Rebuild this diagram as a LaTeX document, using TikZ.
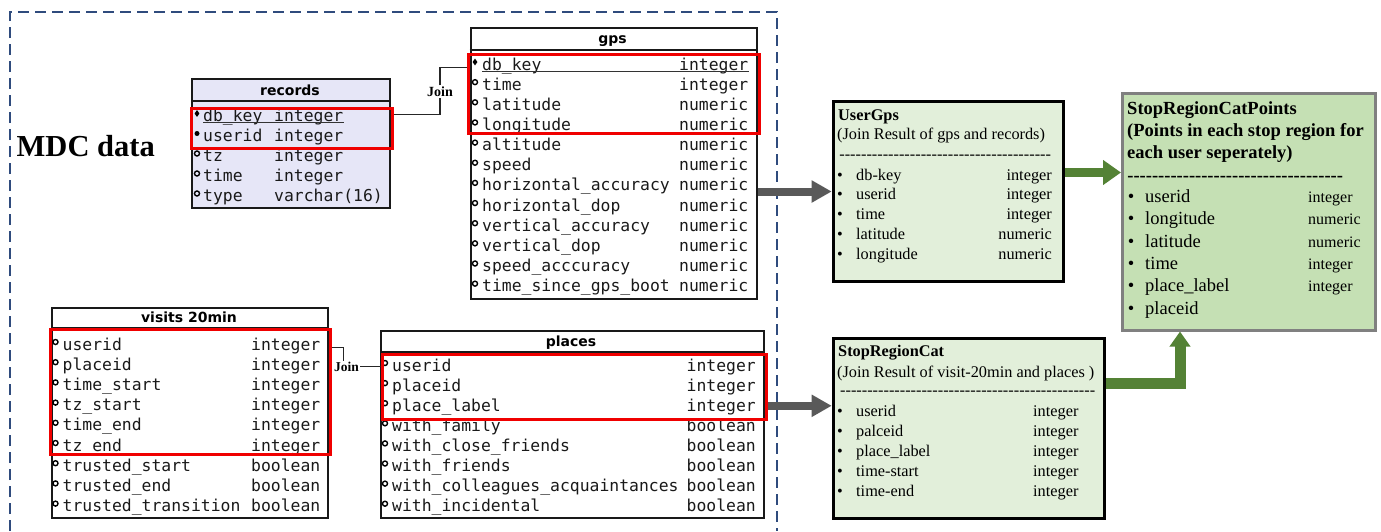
\documentclass[tikz,border=0pt]{standalone}
\usepackage{fontspec}
\setmainfont{Liberation Serif}
\newfontfamily\monof{DejaVu Sans Mono}
\newfontfamily\hdrf{DejaVu Sans}
\usetikzlibrary{arrows.meta,shapes.geometric}
\definecolor{lav}{HTML}{E6E6F7}
\definecolor{resg}{HTML}{E2EFDA}
\definecolor{spg}{HTML}{C5E0B4}
\definecolor{arrgray}{HTML}{595959}
\definecolor{arrgreen}{HTML}{548235}
\definecolor{mdcblue}{HTML}{2F4B7D}
\definecolor{keyred}{HTML}{F00000}
\newcommand\dashfill[1]{\hbox to #1{\cleaders\hbox{-}\hfill}}
% table rows: prefix, marker x, name x, type x, y0, pitch, list (marker/name/type)
\newcommand\tabrows[7]{%
  \foreach \m/\nm/\ty [count=\i] in {#7}{%
    \pgfmathsetmacro\yy{#5+#6*(\i-1)}%
    \edef\tmp{\noexpand\node[mk\m] (#1-m\i) at (#2,\yy-3) {};}\tmp
    \node[row] (#1-n\i) at (#3,\yy+5) {\nm};
    \node[row] (#1-t\i) at (#4,\yy+5) {\ty};
  }}
% result rows: prefix, bullet x, name x, type x, y0, pitch, item style, type style, list
\newcommand\resrows[9]{%
  \foreach \nm/\ty [count=\i] in {#9}{%
    \pgfmathsetmacro\yy{#5+#6*(\i-1)}%
    \node[#7, anchor=base] (#1-b\i) at (#2,\yy+5) {\textbullet};
    \node[#7] (#1-n\i) at (#3,\yy+5) {\nm};
    \node[#8] (#1-t\i) at (#4,\yy+5) {\ty};
  }}
\begin{document}
\begin{tikzpicture}[x=1pt,y=-1pt,
  row/.style={font=\monof\fontsize{16.4}{18}\selectfont, inner sep=0pt, anchor=base west, text=black!90},
  hdr/.style={font=\hdrf\bfseries\fontsize{14}{16}\selectfont, inner sep=0pt, anchor=base},
  tbl/.style={draw=black!90, line width=2pt, anchor=north west, inner sep=0pt},
  hline/.style={draw=black!90, line width=2pt},
  keybox/.style={draw=keyred, line width=3pt, anchor=north west, inner sep=0pt},
  mko/.style={circle, draw=black, line width=1.4pt, inner sep=0pt, minimum size=5pt},
  mkf/.style={circle, fill=black, inner sep=0pt, minimum size=5pt},
  mkd/.style={diamond, fill=black, inner sep=0pt, minimum width=5pt, minimum height=7pt},
  uline/.style={draw=black!80, line width=1pt},
  joinlbl/.style={font=\bfseries\fontsize{14}{16}\selectfont, fill=white, inner sep=1pt},
  jline/.style={draw=black!85, line width=1.2pt},
  garr/.style={draw=arrgray, line width=8pt, -{Triangle[width=21pt,length=20pt]}},
  grarr/.style={draw=arrgreen, line width=9pt, -{Triangle[width=24pt,length=18pt]}},
  grarrb/.style={draw=arrgreen, line width=11pt, line join=miter, -{Triangle[width=20pt,length=15pt]}},
  res/.style={draw=black, line width=3pt, fill=resg, anchor=north west, inner sep=0pt},
  rtitle/.style={font=\bfseries\fontsize{16.3}{18}\selectfont, inner sep=0pt, anchor=base west},
  ugitem/.style={font=\fontsize{16.3}{18}\selectfont, inner sep=0pt, anchor=base west},
  ugtype/.style={ugitem, anchor=base east},
  sptitle/.style={font=\bfseries\fontsize{18.5}{20}\selectfont, inner sep=0pt, anchor=base west},
  spitem/.style={font=\fontsize{18.5}{20}\selectfont, inner sep=0pt, anchor=base west},
  sptype/.style={font=\fontsize{16}{18}\selectfont, inner sep=0pt, anchor=base west},
  mdc/.style={draw=mdcblue, line width=1.6pt, dash pattern=on 11pt off 6pt}
]
\useasboundingbox (0,0) rectangle (1381,531);

% MDC data region
\draw[mdc] (10,531) -- (10,12) -- (777,12) -- (777,531);
\node[font=\bfseries\fontsize{30.5}{32}\selectfont, inner sep=0pt, anchor=base west] (mdc) at (16.5,156.7) {MDC data};

% ---------- records ----------
\node[tbl, fill=lav, minimum width=198pt, minimum height=129pt] (records) at (191,78.3) {};
\draw[hline] (191,101) -- (389,101);
\node[hdr] (records-h) at (290,95) {records};
\tabrows{rec}{197}{203}{274}{116.5}{20}{d/db\_key/integer, f/userid/integer, o/tz/integer, o/time/integer, o/type/varchar(16)}
\draw[uline] ([yshift=-1.2pt]rec-n1.base west) -- ([yshift=-1.2pt]rec-t1.base east);
\node[keybox, minimum width=201pt, minimum height=40pt] (rec-key) at (190,106.7) {};

% ---------- gps ----------
\node[tbl, minimum width=286pt, minimum height=271pt] (gps) at (469.5,26.7) {};
\draw[hline] (469.5,49.5) -- (755.5,49.5);
\node[hdr] (gps-h) at (612.5,43) {gps};
\tabrows{gps}{475}{482}{679}{65}{20.15}{d/db\_key/integer, o/time/integer, o/latitude/numeric, o/longitude/numeric, o/altitude/numeric, o/speed/numeric, o/horizontal\_accuracy/numeric, o/horizontal\_dop/numeric, o/vertical\_accuracy/numeric, o/vertical\_dop/numeric, o/speed\_acccuracy/numeric, o/time\_since\_gps\_boot/numeric}
\draw[uline] ([yshift=-1.7pt]gps-n1.base west) -- ([yshift=-1.7pt]gps-t1.base east);
\node[keybox, minimum width=290.4pt, minimum height=78.4pt] (gps-key) at (467.3,53.3) {};

% ---------- visits 20min ----------
\node[tbl, minimum width=276.3pt, minimum height=210pt] (visits) at (51,307.3) {};
\draw[hline] (51,327.7) -- (327.3,327.7);
\node[hdr] (visits-h) at (189,322) {visits 20min};
\tabrows{vis}{55.5}{62.5}{251}{345}{20.2}{o/userid/integer, o/placeid/integer, o/time\_start/integer, o/tz\_start/integer, o/time\_end/integer, o/tz\_end/integer, o/trusted\_start/boolean, o/trusted\_end/boolean, o/trusted\_transition/boolean}
\node[keybox, minimum width=280pt, minimum height=125pt] (vis-key) at (49.3,328.3) {};

% ---------- places ----------
\node[tbl, minimum width=382.7pt, minimum height=187.3pt] (places) at (380,330) {};
\draw[hline] (380,351.7) -- (762.7,351.7);
\node[hdr] (places-h) at (571,346) {places};
\tabrows{pl}{385}{392}{686.5}{366}{20.1}{o/userid/integer, o/placeid/integer, o/place\_label/integer, o/with\_family/boolean, o/with\_close\_friends/boolean, o/with\_friends/boolean, o/with\_colleagues\_acquaintances/boolean, o/with\_incidental/boolean}
\node[keybox, minimum width=384pt, minimum height=65pt] (pl-key) at (381,353.3) {};

% ---------- joins ----------
\node[joinlbl] (join1) at (440,91.5) {Join};
\draw[jline] ([yshift=-8pt]rec-key.north east) -| (join1.south);
\draw[jline] (join1.north) |- ([yshift=-14.5pt]gps-key.north west);
\node[joinlbl, font=\bfseries\fontsize{13.5}{15}\selectfont] (join2) at (346.5,366.8) {Join};
\draw[jline] ([yshift=-19.5pt]vis-key.north east) -| ([xshift=-3pt]join2.north);
\draw[jline] (join2.east) -- (join2.east -| pl-key.west);

% ---------- UserGps ----------
\node[res, minimum width=230.6pt, minimum height=180pt] (usergps) at (831.7,100) {};
\node[rtitle] (ug-title) at (838,120.5) {UserGps};
\node[ugitem] (ug-sub) at (837,139.5) {(Join Result of gps and records)};
\node[ugitem] (ug-dash) at (838,159) {\dashfill{214pt}};
\resrows{ug}{840}{856}{1052}{175}{19.75}{ugitem}{ugtype}{db-key/integer, userid/integer, time/integer, latitude/numeric, longitude/numeric}

% ---------- StopRegionCat ----------
\node[res, minimum width=271.6pt, minimum height=179.4pt] (src) at (831.7,337.3) {};
\node[rtitle] (src-title) at (838,356.5) {StopRegionCat};
\node[ugitem] (src-sub) at (837,377) {(Join Result of visit-20min and places )};
\node[ugitem] (src-dash) at (838,395.5) {\dashfill{259pt}};
\resrows{src}{840}{856}{1033}{411}{20}{ugitem}{ugitem}{userid/integer, palceid/integer, place\_label/integer, time-start/integer, time-end/integer}

% ---------- StopRegionCatPoints ----------
\node[res, draw=black!50, fill=spg, minimum width=253pt, minimum height=236.5pt] (srcp) at (1121,92) {};
\node[sptitle] (sp-title) at (1127,114) {StopRegionCatPoints};
\node[sptitle] (sp-sub1) at (1127,136) {(Points in each stop region for};
\node[sptitle] (sp-sub2) at (1127,158) {each user seperately)};
\node[sptitle] (sp-dash) at (1127,181) {\dashfill{216pt}};
\resrows{sp}{1131}{1145}{1308}{197.5}{22.3}{spitem}{sptype}{userid/integer, longitude/numeric, latitude/numeric, time/integer, place\_label/integer, placeid/}

% ---------- arrows ----------
\draw[garr] (gps.east |- usergps.west) -- (usergps.west);
\coordinate (a2) at ([yshift=-18.5pt]pl-key.east);
\draw[garr] (a2) -- (a2 -| src.west);
\coordinate (a3) at ([yshift=19pt]usergps.east);
\draw[grarr] (a3) -- (a3 -| srcp.west);
\coordinate (a4) at ([yshift=45pt]src.east);
\coordinate (a4e) at ([xshift=-69pt]srcp.south);
\draw[grarrb] (a4) -| (a4e);
\end{tikzpicture}
\end{document}
